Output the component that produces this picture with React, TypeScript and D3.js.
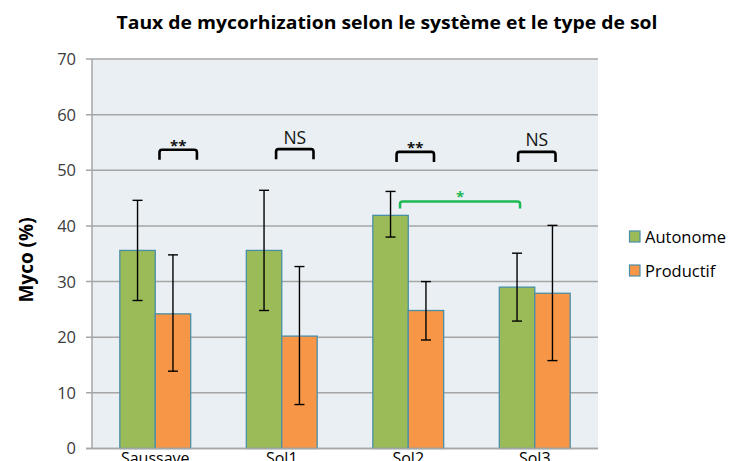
import React from "react";
import * as d3 from "d3";

const categories = ["Saussave", "Sol1", "Sol2", "Sol3"];
const seriesNames = ["Autonome", "Productif"];
const autonome = [35.6, 35.6, 41.9, 29.0];
const autonomeErrLow = [26.6, 24.8, 38.0, 22.9];
const autonomeErrHigh = [44.6, 46.4, 46.2, 35.1];
const productif = [24.2, 20.2, 24.8, 27.9];
const productifErrLow = [13.9, 7.9, 19.5, 15.8];
const productifErrHigh = [34.8, 32.7, 30.0, 40.1];
const yTicks = [0, 10, 20, 30, 40, 50, 60, 70];
const sigLabels = ["**", "NS", "**", "NS"];
const sigLevel = [53.7, 53.8, 53.3, 53.3];
// bracket shift relative to bar centres, in bar widths
const sigShift = [0.62, 0.34, 0.17, 0.03];
const crossSig = { from: "Sol2", to: "Sol3", label: "*", level: 44.4 };

const colors = ["#9bbb59", "#f79646"];
const W = 730, H = 461;
const M = { left: 92, right: 598, top: 59, bottom: 448.5 };
const FONT = "'Open Sans', 'DejaVu Sans', sans-serif";

export default function App() {
  const x = d3.scaleBand().domain(categories).range([M.left, M.right]).paddingInner(0.44).paddingOuter(0.22);
  const y = d3.scaleLinear().domain([0, 70]).range([M.bottom, M.top]);
  const bw = x.bandwidth() / 2;
  const series = [
    { name: seriesNames[0], vals: autonome, lo: autonomeErrLow, hi: autonomeErrHigh },
    { name: seriesNames[1], vals: productif, lo: productifErrLow, hi: productifErrHigh },
  ];
  const cx = (c: string, s: number) => (x(c) as number) + bw * s + bw / 2;
  const bracket = (x1: number, x2: number, yTop: number, drop: number) =>
    `M${x1},${yTop + drop} L${x1},${yTop + 2.5} Q${x1},${yTop} ${x1 + 2.5},${yTop} L${x2 - 2.5},${yTop} Q${x2},${yTop} ${x2},${yTop + 2.5} L${x2},${yTop + drop}`;

  return (
    <svg width={W} height={H} style={{ position: "absolute", left: 0, top: 0, background: "#fff" }}>
      <text x={387} y={29} textAnchor="middle" fontFamily={FONT} fontWeight="bold" fontSize={17.5} fill="#000" textLength={541} lengthAdjust="spacingAndGlyphs">
        Taux de mycorhization selon le système et le type de sol
      </text>
      <rect x={M.left} y={M.top} width={M.right - M.left} height={M.bottom - M.top} fill="#e9eff3" />
      {yTicks.map((t) => (
        <g key={t}>
          <line x1={86} x2={M.right} y1={y(t)} y2={y(t)} stroke="#a6a6a6" strokeWidth={1.5} />
          <text x={76} y={y(t)} dy="0.36em" textAnchor="end" fontFamily={FONT} fontSize={16.5} fill="#3c3c3c">
            {t}
          </text>
        </g>
      ))}
      <line x1={M.left} x2={M.left} y1={M.top} y2={M.bottom} stroke="#a6a6a6" strokeWidth={1.5} />
      <text transform={`translate(33,${260}) rotate(-90)`} textAnchor="middle" fontFamily={FONT} fontWeight="bold" fontSize={19} fill="#000">
        Myco (%)
      </text>
      {series.map((s, si) =>
        categories.map((c, i) => (
          <rect key={c + si} x={(x(c) as number) + bw * si} y={y(s.vals[i])} width={bw} height={y(0) - y(s.vals[i])} fill={colors[si]} stroke="#4a8fa8" strokeWidth={1.3} />
        ))
      )}
      {series.map((s, si) =>
        categories.map((c, i) => {
          const px = cx(c, si);
          return (
            <g key={"e" + c + si} stroke="#000" strokeWidth={1.4}>
              <line x1={px} x2={px} y1={y(s.hi[i])} y2={y(s.lo[i])} />
              <line x1={px - 5} x2={px + 5} y1={y(s.hi[i])} y2={y(s.hi[i])} />
              <line x1={px - 5} x2={px + 5} y1={y(s.lo[i])} y2={y(s.lo[i])} />
            </g>
          );
        })
      )}
      {categories.map((c, i) => {
        const x1 = cx(c, 0) + sigShift[i] * bw, x2 = cx(c, 1) + sigShift[i] * bw + 2;
        const yt = y(sigLevel[i]);
        const ns = sigLabels[i] === "NS";
        return (
          <g key={"s" + c}>
            <path d={bracket(x1, x2, yt, 10)} fill="none" stroke="#000" strokeWidth={2.6} />
            <text x={(x1 + x2) / 2} y={ns ? yt - 5.5 : yt + 1.5} textAnchor="middle" fontFamily={FONT} fontSize={ns ? 17.5 : 15} fontWeight={ns ? "normal" : "bold"} fill="#111">
              {sigLabels[i]}
            </text>
          </g>
        );
      })}
      {(() => {
        const x1 = cx(crossSig.from, 0) + 9.5, x2 = cx(crossSig.to, 0) + 3;
        const yt = y(crossSig.level);
        return (
          <g>
            <path d={bracket(x1, x2, yt, 7)} fill="none" stroke="#1db954" strokeWidth={2.5} />
            <text x={(x1 + x2) / 2} y={yt + 1} textAnchor="middle" fontFamily={FONT} fontSize={15} fontWeight="bold" fill="#1db954">
              {crossSig.label}
            </text>
          </g>
        );
      })()}
      <line x1={86} x2={M.right} y1={M.bottom} y2={M.bottom} stroke="#a6a6a6" strokeWidth={1.5} />
      {categories.map((c) => (
        <text key={"l" + c} x={(x(c) as number) + x.bandwidth() / 2} y={464} textAnchor="middle" fontFamily={FONT} fontSize={16} fill="#000">
          {c}
        </text>
      ))}
      {seriesNames.map((n, i) => (
        <g key={n}>
          <rect x={629.5} y={231 + i * 34} width={10.5} height={11} fill={colors[i]} stroke="#4a8fa8" strokeWidth={1.2} />
          <text x={645} y={237 + i * 34} dy="0.36em" fontFamily={FONT} fontSize={16.5} fill="#000">
            {n}
          </text>
        </g>
      ))}
    </svg>
  );
}
